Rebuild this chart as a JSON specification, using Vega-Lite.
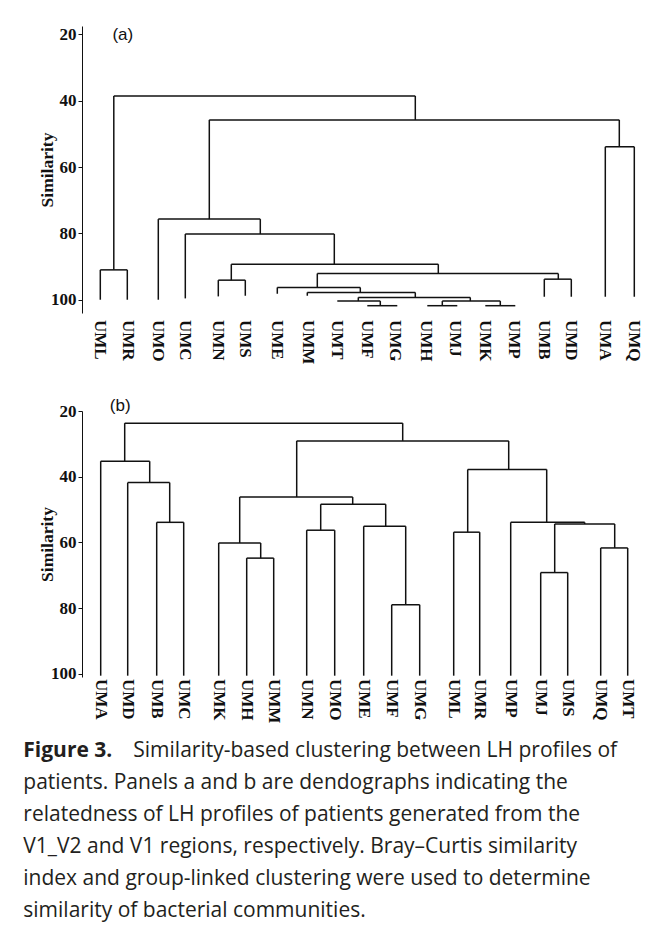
{
  "$schema": "https://vega.github.io/schema/vega-lite/v6.json",
  "background": "white",
  "padding": {"left": 23, "top": 25, "right": 0, "bottom": 0},
  "config": {"view": {"stroke": null}},
  "datasets": {
    "segA": [
      {"pos":100,"pos2":100,"sim":91.0,"sim2":100},{"pos":127,"pos2":127,"sim":91.0,"sim2":100},
      {"pos":158,"pos2":158,"sim":75.7,"sim2":100},{"pos":185,"pos2":185,"sim":80.2,"sim2":99.6},
      {"pos":218,"pos2":218,"sim":94.1,"sim2":99},{"pos":245,"pos2":245,"sim":94.1,"sim2":98.8},
      {"pos":277,"pos2":277,"sim":96.3,"sim2":98.2},{"pos":307,"pos2":307,"sim":97.8,"sim2":98.8},
      {"pos":544,"pos2":544,"sim":93.8,"sim2":99.1},{"pos":571,"pos2":571,"sim":93.8,"sim2":99.1},
      {"pos":605,"pos2":605,"sim":53.9,"sim2":99.1},{"pos":634,"pos2":634,"sim":53.9,"sim2":99.1},
      {"pos":100,"pos2":127,"sim":91.0,"sim2":91.0},
      {"pos":113.5,"pos2":113.5,"sim":38.6,"sim2":91.0},
      {"pos":113.5,"pos2":415,"sim":38.6,"sim2":38.6},
      {"pos":415,"pos2":415,"sim":38.6,"sim2":45.8},
      {"pos":209,"pos2":619,"sim":45.8,"sim2":45.8},
      {"pos":619,"pos2":619,"sim":45.8,"sim2":53.9},
      {"pos":605,"pos2":634,"sim":53.9,"sim2":53.9},
      {"pos":209,"pos2":209,"sim":45.8,"sim2":75.7},
      {"pos":158,"pos2":260,"sim":75.7,"sim2":75.7},
      {"pos":260,"pos2":260,"sim":75.7,"sim2":80.2},
      {"pos":185,"pos2":334,"sim":80.2,"sim2":80.2},
      {"pos":334,"pos2":334,"sim":80.2,"sim2":89.3},
      {"pos":231,"pos2":438,"sim":89.3,"sim2":89.3},
      {"pos":231,"pos2":231,"sim":89.3,"sim2":94.1},
      {"pos":218,"pos2":245,"sim":94.1,"sim2":94.1},
      {"pos":438,"pos2":438,"sim":89.3,"sim2":92.1},
      {"pos":317,"pos2":558,"sim":92.1,"sim2":92.1},
      {"pos":558,"pos2":558,"sim":92.1,"sim2":93.8},
      {"pos":544,"pos2":571,"sim":93.8,"sim2":93.8},
      {"pos":317,"pos2":317,"sim":92.1,"sim2":96.3},
      {"pos":277,"pos2":360,"sim":96.3,"sim2":96.3},
      {"pos":360,"pos2":360,"sim":96.3,"sim2":97.8},
      {"pos":307,"pos2":415,"sim":97.8,"sim2":97.8},
      {"pos":415,"pos2":415,"sim":97.8,"sim2":99.3},
      {"pos":358,"pos2":470,"sim":99.3,"sim2":99.3},
      {"pos":358,"pos2":358,"sim":99.3,"sim2":100.4},
      {"pos":337,"pos2":380,"sim":100.4,"sim2":100.4},
      {"pos":380,"pos2":380,"sim":100.4,"sim2":101.8},
      {"pos":367,"pos2":397,"sim":101.8,"sim2":101.8},
      {"pos":470,"pos2":470,"sim":99.3,"sim2":100.4},
      {"pos":442,"pos2":500,"sim":100.4,"sim2":100.4},
      {"pos":442,"pos2":442,"sim":100.4,"sim2":101.8},
      {"pos":427,"pos2":457,"sim":101.8,"sim2":101.8},
      {"pos":500,"pos2":500,"sim":100.4,"sim2":101.8},
      {"pos":485,"pos2":515,"sim":101.8,"sim2":101.8}
    ],
    "leafA": [
      {"id":"UML","pos":100},{"id":"UMR","pos":128},{"id":"UMO","pos":158},{"id":"UMC","pos":185},
      {"id":"UMN","pos":218},{"id":"UMS","pos":245},{"id":"UME","pos":277},{"id":"UMM","pos":308},
      {"id":"UMT","pos":337},{"id":"UMF","pos":367},{"id":"UMG","pos":395},{"id":"UMH","pos":426},
      {"id":"UMJ","pos":455},{"id":"UMK","pos":485},{"id":"UMP","pos":514},{"id":"UMB","pos":544},
      {"id":"UMD","pos":571},{"id":"UMA","pos":605},{"id":"UMQ","pos":634}
    ],
    "segB": [
      {"pos":103,"pos2":103,"sim":35.3,"sim2":100.6},{"pos":130,"pos2":130,"sim":41.8,"sim2":100.6},
      {"pos":159,"pos2":159,"sim":53.9,"sim2":100.6},{"pos":186,"pos2":186,"sim":53.9,"sim2":100.6},
      {"pos":221,"pos2":221,"sim":60.2,"sim2":100.6},{"pos":249,"pos2":249,"sim":64.8,"sim2":100.6},
      {"pos":276,"pos2":276,"sim":64.8,"sim2":100.6},{"pos":309,"pos2":309,"sim":56.3,"sim2":100.6},
      {"pos":337,"pos2":337,"sim":56.3,"sim2":100.6},{"pos":366,"pos2":366,"sim":55.1,"sim2":100.6},
      {"pos":394,"pos2":394,"sim":79.0,"sim2":100.6},{"pos":422,"pos2":422,"sim":79.0,"sim2":100.6},
      {"pos":456,"pos2":456,"sim":56.9,"sim2":100.6},{"pos":482,"pos2":482,"sim":56.9,"sim2":100.6},
      {"pos":513,"pos2":513,"sim":53.9,"sim2":100.6},{"pos":543,"pos2":543,"sim":69.2,"sim2":100.6},
      {"pos":570,"pos2":570,"sim":69.2,"sim2":100.6},{"pos":603,"pos2":603,"sim":61.7,"sim2":100.6},
      {"pos":630,"pos2":630,"sim":61.7,"sim2":100.6},
      {"pos":127,"pos2":405,"sim":23.7,"sim2":23.7},
      {"pos":127,"pos2":127,"sim":23.7,"sim2":35.3},
      {"pos":103,"pos2":152,"sim":35.3,"sim2":35.3},
      {"pos":152,"pos2":152,"sim":35.3,"sim2":41.8},
      {"pos":130,"pos2":172,"sim":41.8,"sim2":41.8},
      {"pos":172,"pos2":172,"sim":41.8,"sim2":53.9},
      {"pos":159,"pos2":186,"sim":53.9,"sim2":53.9},
      {"pos":405,"pos2":405,"sim":23.7,"sim2":29.1},
      {"pos":299,"pos2":511,"sim":29.1,"sim2":29.1},
      {"pos":299,"pos2":299,"sim":29.1,"sim2":46.2},
      {"pos":242,"pos2":355,"sim":46.2,"sim2":46.2},
      {"pos":242,"pos2":242,"sim":46.2,"sim2":60.2},
      {"pos":221,"pos2":263,"sim":60.2,"sim2":60.2},
      {"pos":263,"pos2":263,"sim":60.2,"sim2":64.8},
      {"pos":249,"pos2":276,"sim":64.8,"sim2":64.8},
      {"pos":355,"pos2":355,"sim":46.2,"sim2":48.4},
      {"pos":323,"pos2":388,"sim":48.4,"sim2":48.4},
      {"pos":323,"pos2":323,"sim":48.4,"sim2":56.3},
      {"pos":309,"pos2":337,"sim":56.3,"sim2":56.3},
      {"pos":388,"pos2":388,"sim":48.4,"sim2":55.1},
      {"pos":366,"pos2":408,"sim":55.1,"sim2":55.1},
      {"pos":408,"pos2":408,"sim":55.1,"sim2":79.0},
      {"pos":394,"pos2":422,"sim":79.0,"sim2":79.0},
      {"pos":511,"pos2":511,"sim":29.1,"sim2":37.8},
      {"pos":470,"pos2":549,"sim":37.8,"sim2":37.8},
      {"pos":470,"pos2":470,"sim":37.8,"sim2":56.9},
      {"pos":456,"pos2":482,"sim":56.9,"sim2":56.9},
      {"pos":549,"pos2":549,"sim":37.8,"sim2":53.9},
      {"pos":513,"pos2":587,"sim":53.9,"sim2":53.9},
      {"pos":587,"pos2":587,"sim":53.9,"sim2":54.4},
      {"pos":557,"pos2":617,"sim":54.4,"sim2":54.4},
      {"pos":557,"pos2":557,"sim":54.4,"sim2":69.2},
      {"pos":543,"pos2":570,"sim":69.2,"sim2":69.2},
      {"pos":617,"pos2":617,"sim":54.4,"sim2":61.7},
      {"pos":603,"pos2":630,"sim":61.7,"sim2":61.7}
    ],
    "leafB": [
      {"id":"UMA","pos":103},{"id":"UMD","pos":130},{"id":"UMB","pos":159},{"id":"UMC","pos":186},
      {"id":"UMK","pos":221},{"id":"UMH","pos":249},{"id":"UMM","pos":276},{"id":"UMN","pos":309},
      {"id":"UMO","pos":337},{"id":"UME","pos":366},{"id":"UMF","pos":394},{"id":"UMG","pos":422},
      {"id":"UML","pos":456},{"id":"UMR","pos":482},{"id":"UMP","pos":513},{"id":"UMJ","pos":543},
      {"id":"UMS","pos":570},{"id":"UMQ","pos":603},{"id":"UMT","pos":630}
    ]
  },
  "spacing": 98,
  "bounds": "flush",
  "vconcat": [
    {
      "width": 568,
      "height": 287,
      "layer": [
        {
          "data": {"name": "segA"},
          "mark": {"type": "rule", "color": "#111", "strokeWidth": 1.5},
          "encoding": {
            "x": {"field": "pos", "type": "quantitative", "scale": {"domain": [81.7, 649.7], "nice": false, "zero": false}, "axis": null},
            "x2": {"field": "pos2"},
            "y": {"field": "sim", "type": "quantitative", "scale": {"domain": [17.5, 104], "reverse": true, "nice": false, "zero": false},
              "axis": {"values": [20, 40, 60, 80, 100], "title": "Similarity", "grid": false,
                "labelFont": "Liberation Serif", "labelFontWeight": "bold", "labelFontSize": 17, "labelColor": "#111",
                "tickSize": 4, "tickColor": "#111", "domainColor": "#111", "labelPadding": 2,
                "titleFont": "Liberation Serif", "titleFontWeight": "bold", "titleFontSize": 17.5, "titleColor": "#111", "titlePadding": -6}},
            "y2": {"field": "sim2"}
          }
        },
        {
          "data": {"name": "leafA"},
          "mark": {"type": "text", "angle": 90, "align": "left", "baseline": "middle", "dx": 7, "font": "Liberation Serif", "fontWeight": "bold", "fontSize": 17, "color": "#111"},
          "encoding": {
            "x": {"field": "pos", "type": "quantitative"},
            "y": {"datum": 104},
            "text": {"field": "id"}
          }
        },
        {
          "data": {"values": [{"panel": "(a)", "pos": 122.5, "sim": 20.2}]},
          "mark": {"type": "text", "font": "Liberation Sans", "fontSize": 17, "color": "#111", "baseline": "middle"},
          "encoding": {
            "x": {"field": "pos", "type": "quantitative"},
            "y": {"field": "sim", "type": "quantitative"},
            "text": {"field": "panel"}
          }
        }
      ]
    },
    {
      "width": 568,
      "height": 266,
      "layer": [
        {
          "data": {"name": "segB"},
          "mark": {"type": "rule", "color": "#111", "strokeWidth": 1.5},
          "encoding": {
            "x": {"field": "pos", "type": "quantitative", "scale": {"domain": [84.3, 652.3], "nice": false, "zero": false}, "axis": null},
            "x2": {"field": "pos2"},
            "y": {"field": "sim", "type": "quantitative", "scale": {"domain": [20, 101], "reverse": true, "nice": false, "zero": false},
              "axis": {"values": [20, 40, 60, 80, 100], "title": "Similarity", "grid": false,
                "labelFont": "Liberation Serif", "labelFontWeight": "bold", "labelFontSize": 17, "labelColor": "#111",
                "tickSize": 4, "tickColor": "#111", "domainColor": "#111", "labelPadding": 2,
                "titleFont": "Liberation Serif", "titleFontWeight": "bold", "titleFontSize": 17.5, "titleColor": "#111", "titlePadding": -6}},
            "y2": {"field": "sim2"}
          }
        },
        {
          "data": {"name": "leafB"},
          "mark": {"type": "text", "angle": 90, "align": "left", "baseline": "middle", "dx": 2, "font": "Liberation Serif", "fontWeight": "bold", "fontSize": 17, "color": "#111"},
          "encoding": {
            "x": {"field": "pos", "type": "quantitative"},
            "y": {"datum": 101},
            "text": {"field": "id"}
          }
        },
        {
          "data": {"values": [{"panel": "(b)", "pos": 122.5, "sim": 18.4}]},
          "mark": {"type": "text", "font": "Liberation Sans", "fontSize": 17, "color": "#111", "baseline": "middle"},
          "encoding": {
            "x": {"field": "pos", "type": "quantitative"},
            "y": {"field": "sim", "type": "quantitative"},
            "text": {"field": "panel"}
          }
        }
      ]
    },
    {
      "width": 2,
      "height": {"step": 32},
      "layer": [
        {
          "data": {"values": [{"line": 1, "text": "Figure 3."}]},
          "mark": {"type": "text", "align": "left", "baseline": "middle", "dx": -59.7, "dy": -40, "font": "Open Sans", "fontWeight": "bold", "fontSize": 21, "color": "#231f20"},
          "encoding": {
            "y": {"field": "line", "type": "ordinal", "axis": null},
            "text": {"field": "text"}
          }
        },
        {
          "data": {"values": [{"line": 1, "text": "Similarity-based clustering between LH profiles of"}]},
          "mark": {"type": "text", "align": "left", "baseline": "middle", "dx": 50.3, "dy": -40, "font": "Open Sans", "fontSize": 21, "color": "#231f20"},
          "encoding": {
            "y": {"field": "line", "type": "ordinal"},
            "text": {"field": "text"}
          }
        },
        {
          "data": {"values": [
            {"line": 2, "text": "patients. Panels a and b are dendographs indicating the"},
            {"line": 3, "text": "relatedness of LH profiles of patients generated from the"},
            {"line": 4, "text": "V1_V2 and V1 regions, respectively. Bray–Curtis similarity"},
            {"line": 5, "text": "index and group-linked clustering were used to determine"},
            {"line": 6, "text": "similarity of bacterial communities."}
          ]},
          "mark": {"type": "text", "align": "left", "baseline": "middle", "dx": -59.7, "dy": -40, "font": "Open Sans", "fontSize": 21, "color": "#231f20"},
          "encoding": {
            "y": {"field": "line", "type": "ordinal"},
            "text": {"field": "text"}
          }
        }
      ]
    }
  ]
}
